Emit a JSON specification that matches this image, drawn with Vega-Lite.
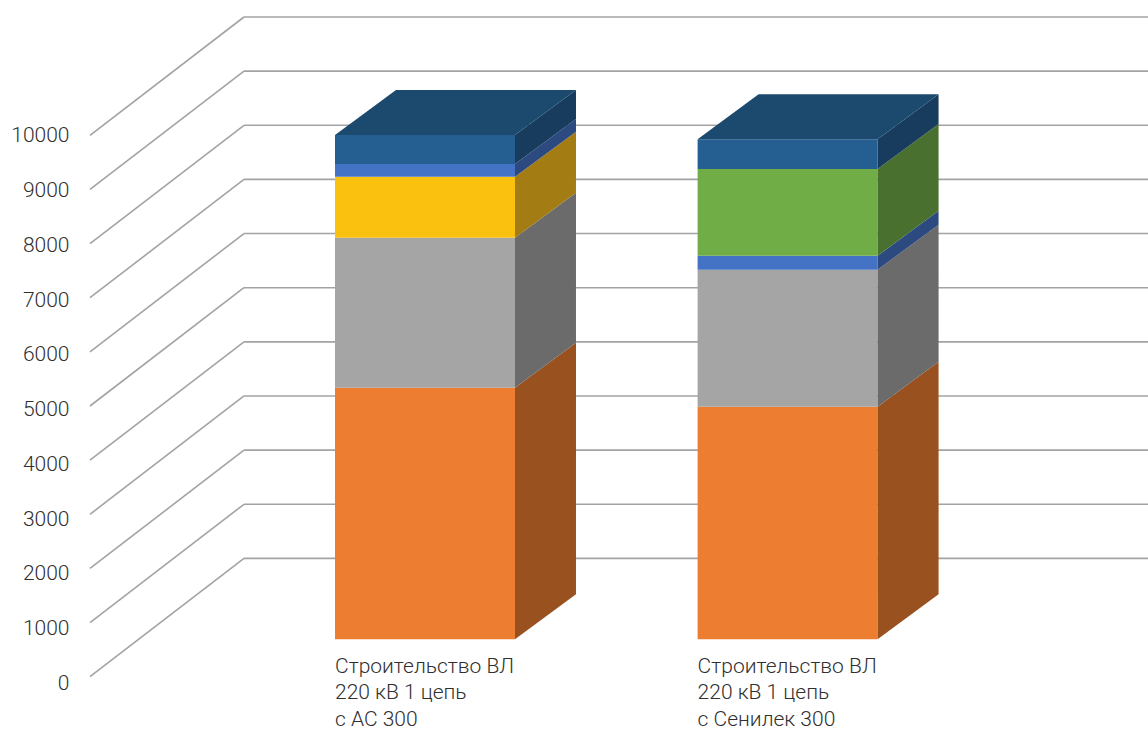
{
  "$schema": "https://vega.github.io/schema/vega-lite/v6.json",
  "width": 1058,
  "height": 730,
  "autosize": {"type": "none"},
  "padding": {"left": 90, "top": 0, "right": 0, "bottom": 0},
  "background": "white",
  "config": {"view": {"stroke": null}, "font": "Roboto"},
  "datasets": {
    "segments": [
      {"n": 1, "series": "Ряд 2", "value": 4647},
      {"n": 1, "series": "Ряд 3", "value": 2771},
      {"n": 1, "series": "Ряд 4", "value": 1127},
      {"n": 1, "series": "Ряд 5", "value": 235},
      {"n": 1, "series": "Ряд 7", "value": 536},
      {"n": 2, "series": "Ряд 2", "value": 4296},
      {"n": 2, "series": "Ряд 3", "value": 2530},
      {"n": 2, "series": "Ряд 5", "value": 259},
      {"n": 2, "series": "Ряд 6", "value": 1601},
      {"n": 2, "series": "Ряд 7", "value": 549}
    ],
    "ticks": [
      {"v": 0}, {"v": 1000}, {"v": 2000}, {"v": 3000}, {"v": 4000}, {"v": 5000},
      {"v": 6000}, {"v": 7000}, {"v": 8000}, {"v": 9000}, {"v": 10000}
    ],
    "bars": [
      {"n": 1, "label": ["Строительство ВЛ", "220 кВ 1 цепь", "с АС 300"]},
      {"n": 2, "label": ["Строительство ВЛ", "220 кВ 1 цепь", "с Сенилек 300"]}
    ]
  },
  "layer": [
    {
      "data": {"name": "ticks"},
      "transform": [{"calculate": "datum.v + 2185", "as": "vb"}],
      "mark": {"type": "rule", "color": "#a3a3a3", "strokeWidth": 1.6},
      "encoding": {
        "x": {"datum": 0.0761, "type": "quantitative", "scale": {"domain": [0.07611, 2.99393], "nice": false, "zero": false}, "axis": null},
        "x2": {"datum": 0.5008},
        "y": {"field": "v", "type": "quantitative", "scale": {"domain": [-984.5, 12499], "nice": false, "zero": false}, "axis": null},
        "y2": {"field": "vb"}
      }
    },
    {
      "data": {"name": "ticks"},
      "transform": [{"calculate": "datum.v + 2185", "as": "vb"}],
      "mark": {"type": "rule", "color": "#a3a3a3", "strokeWidth": 1.6},
      "encoding": {
        "x": {"datum": 0.5008, "type": "quantitative", "scale": {"domain": [0.07611, 2.99393], "nice": false, "zero": false}, "axis": null},
        "x2": {"datum": 2.994},
        "y": {"field": "vb", "type": "quantitative", "scale": {"domain": [-984.5, 12499], "nice": false, "zero": false}, "axis": null},
        "y2": {"field": "vb"}
      }
    },
    {
      "data": {"name": "ticks"},
      "mark": {"type": "point", "opacity": 0},
      "encoding": {
        "x": {"datum": 0.0761, "type": "quantitative", "scale": {"domain": [0.07611, 2.99393], "nice": false, "zero": false}, "axis": null},
        "y": {
          "field": "v", "type": "quantitative",
          "scale": {"domain": [-853, 12480], "nice": false, "zero": false},
          "axis": {
            "orient": "left", "values": [0, 1000, 2000, 3000, 4000, 5000, 6000, 7000, 8000, 9000, 10000],
            "format": "d", "ticks": false, "tickSize": 0, "domain": false, "grid": false, "title": null,
            "labelFont": "Roboto", "labelFontSize": 21, "labelFontWeight": 300, "labelColor": "#303030", "labelPadding": 21
          }
        }
      }
    },
    {
      "data": {"name": "segments"},
      "transform": [
        {"stack": "value", "groupby": ["n"], "sort": [{"field": "series", "order": "ascending"}], "as": ["s0", "s1"]},
        {"calculate": "datum.n - 0.2482", "as": "xa"},
        {"calculate": "datum.n + 0.2482", "as": "xb"},
        {"calculate": "datum.s0 + 691", "as": "ya"},
        {"calculate": "datum.s1 + 691", "as": "yb"}
      ],
      "mark": {"type": "rect"},
      "encoding": {
        "x": {"field": "xa", "type": "quantitative", "scale": {"domain": [0.07611, 2.99393], "nice": false, "zero": false}, "axis": null},
        "x2": {"field": "xb"},
        "y": {"field": "ya", "type": "quantitative", "scale": {"domain": [-984.5, 12499], "nice": false, "zero": false}, "axis": null},
        "y2": {"field": "yb"},
        "color": {
          "field": "series", "type": "nominal", "legend": null,
          "scale": {"domain": ["Ряд 2", "Ряд 3", "Ряд 4", "Ряд 5", "Ряд 6", "Ряд 7"],
                    "range": ["#ED7D31", "#A5A5A5", "#FBC10F", "#4472C4", "#70AD47", "#255E91"]}
        }
      }
    },
    {
      "data": {"name": "segments"},
      "transform": [
        {"stack": "value", "groupby": ["n"], "sort": [{"field": "series", "order": "ascending"}], "as": ["s0", "s1"]},
        {"calculate": "[0, 1]", "as": "k"},
        {"flatten": ["k"]},
        {"calculate": "datum.n + 0.2482 + datum.k * 0.1682", "as": "sx"},
        {"calculate": "datum.s0 + 691 + datum.k * 831", "as": "sy0"},
        {"calculate": "datum.s1 + 691 + datum.k * 831", "as": "sy1"}
      ],
      "mark": {"type": "area", "orient": "vertical"},
      "encoding": {
        "x": {"field": "sx", "type": "quantitative", "scale": {"domain": [0.07611, 2.99393], "nice": false, "zero": false}, "axis": null},
        "y": {"field": "sy0", "type": "quantitative", "scale": {"domain": [-984.5, 12499], "nice": false, "zero": false}, "axis": null},
        "y2": {"field": "sy1"},
        "detail": {"field": "n", "type": "nominal"},
        "color": {
          "field": "series", "type": "nominal", "legend": null,
          "scale": {"domain": ["Ряд 2", "Ряд 3", "Ряд 4", "Ряд 5", "Ряд 6", "Ряд 7"],
                    "range": ["#9A5120", "#6B6B6B", "#A37C14", "#2D4A80", "#49702E", "#173C5E"]}
        }
      }
    },
    {
      "data": {"name": "segments"},
      "transform": [
        {"stack": "value", "groupby": ["n"], "sort": [{"field": "series", "order": "ascending"}], "as": ["s0", "s1"]},
        {"joinaggregate": [{"op": "max", "field": "s1", "as": "top"}], "groupby": ["n"]},
        {"filter": "datum.s1 === datum.top"},
        {"calculate": "[0, 1]", "as": "k"},
        {"flatten": ["k"]},
        {"calculate": "datum.n - 0.2482 + datum.k * 0.1682", "as": "tx0"},
        {"calculate": "datum.n + 0.2482 + datum.k * 0.1682", "as": "tx1"},
        {"calculate": "datum.s1 + 691 + datum.k * 831", "as": "ty"}
      ],
      "mark": {"type": "area", "orient": "horizontal", "color": "#1C4A6E"},
      "encoding": {
        "y": {"field": "ty", "type": "quantitative", "scale": {"domain": [-984.5, 12499], "nice": false, "zero": false}, "axis": null},
        "x": {"field": "tx0", "type": "quantitative", "scale": {"domain": [0.07611, 2.99393], "nice": false, "zero": false}, "axis": null},
        "x2": {"field": "tx1"},
        "detail": {"field": "n", "type": "nominal"}
      }
    },
    {
      "data": {"name": "bars"},
      "transform": [{"calculate": "datum.n - 0.2482", "as": "tx"}],
      "mark": {"type": "text", "align": "left", "baseline": "alphabetic", "font": "Roboto", "fontSize": 21, "fontWeight": 300, "lineHeight": 26.3, "color": "#303030"},
      "encoding": {
        "x": {"field": "tx", "type": "quantitative", "scale": {"domain": [0.07611, 2.99393], "nice": false, "zero": false}, "axis": null},
        "y": {"datum": 68, "type": "quantitative", "scale": {"domain": [-984.5, 12499], "nice": false, "zero": false}, "axis": null},
        "text": {"field": "label"}
      }
    }
  ],
  "resolve": {"scale": {"y": "independent", "color": "independent"}}
}
